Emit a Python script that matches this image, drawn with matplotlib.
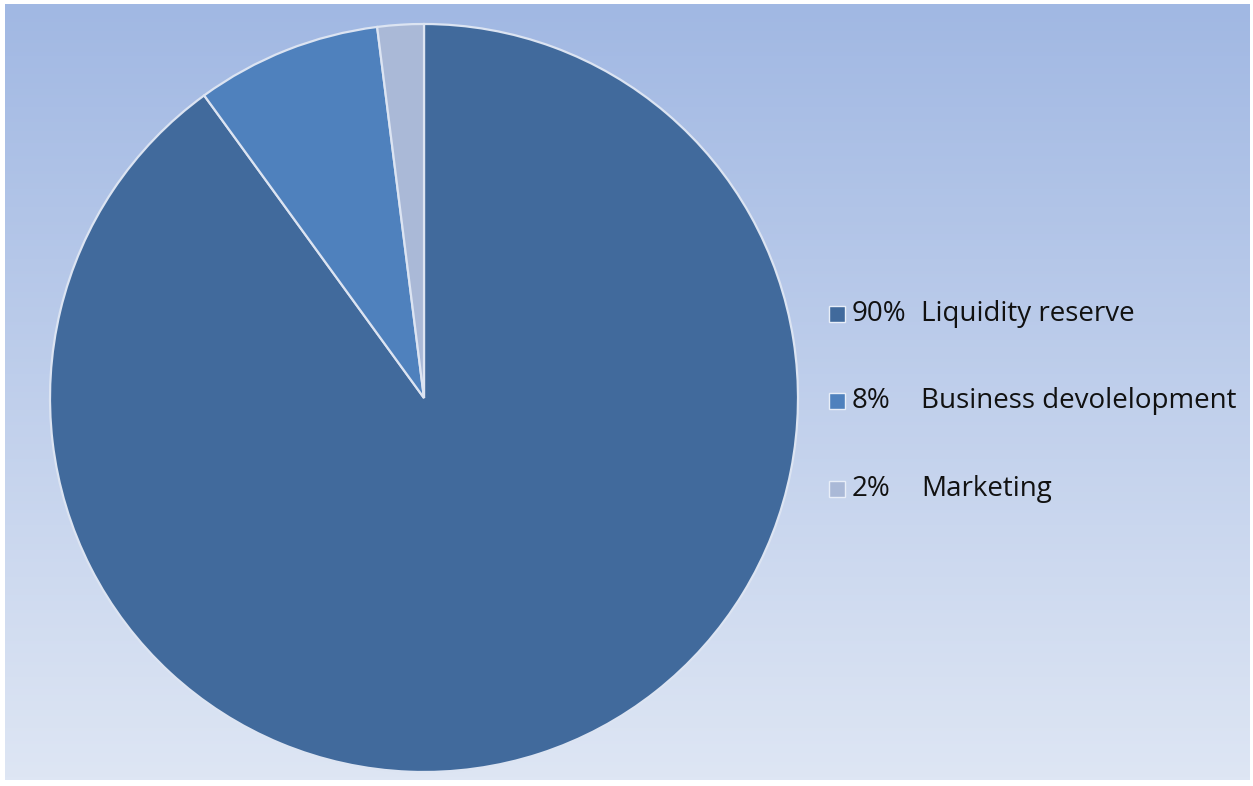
import numpy as np
import matplotlib.pyplot as plt
from matplotlib.patches import Rectangle

# data
shares = [90, 8, 2]
pct_labels = ["90%", "8%", "2%"]
names = ["Liquidity reserve", "Business devolelopment", "Marketing"]
colors = ["#416A9C", "#4F81BD", "#AAB9D7"]

W, H = 1253, 786
fig = plt.figure(figsize=(W / 100, H / 100), dpi=100)
fig.patch.set_facecolor("white")

# background gradient panel
bg = fig.add_axes([5 / W, 6 / H, 1245 / W, 776 / H])
top = np.array([0xA1, 0xB8, 0xE3]) / 255
bot = np.array([0xDE, 0xE6, 0xF4]) / 255
t = np.linspace(0, 1, 256)[:, None]
grad = top[None, :] * (1 - t) + bot[None, :] * t
bg.imshow(grad[:, None, :], aspect="auto", extent=[0, 1, 0, 1])
bg.set_axis_off()

# pie
r = 374
cx, cy = 424, 398
ax = fig.add_axes([(cx - r) / W, (H - cy - r) / H, 2 * r / W, 2 * r / H])
ax.pie(shares, colors=colors, startangle=90, counterclock=False,
       wedgeprops=dict(edgecolor="#DCE4F2", linewidth=1.6))
ax.set_xlim(-1, 1)
ax.set_ylim(-1, 1)
ax.set_aspect("auto")
ax.set_axis_off()

# legend
rows_y = [314, 401, 489]
for yy, p, n, c in zip(rows_y, pct_labels, names, colors):
    fig.patches.append(Rectangle((829 / W, (H - yy - 8) / H), 16 / W, 16 / H,
                                 transform=fig.transFigure, facecolor=c,
                                 edgecolor="#E8EEF8", linewidth=1.0))
    fig.text(852 / W, (H - yy) / H, p, fontsize=20, family="Open Sans",
             va="center", ha="left", color="#111111")
    fig.text(921 / W, (H - yy) / H, n, fontsize=20, family="Open Sans",
             va="center", ha="left", color="#111111")

fig.savefig("out.png", dpi=100)
